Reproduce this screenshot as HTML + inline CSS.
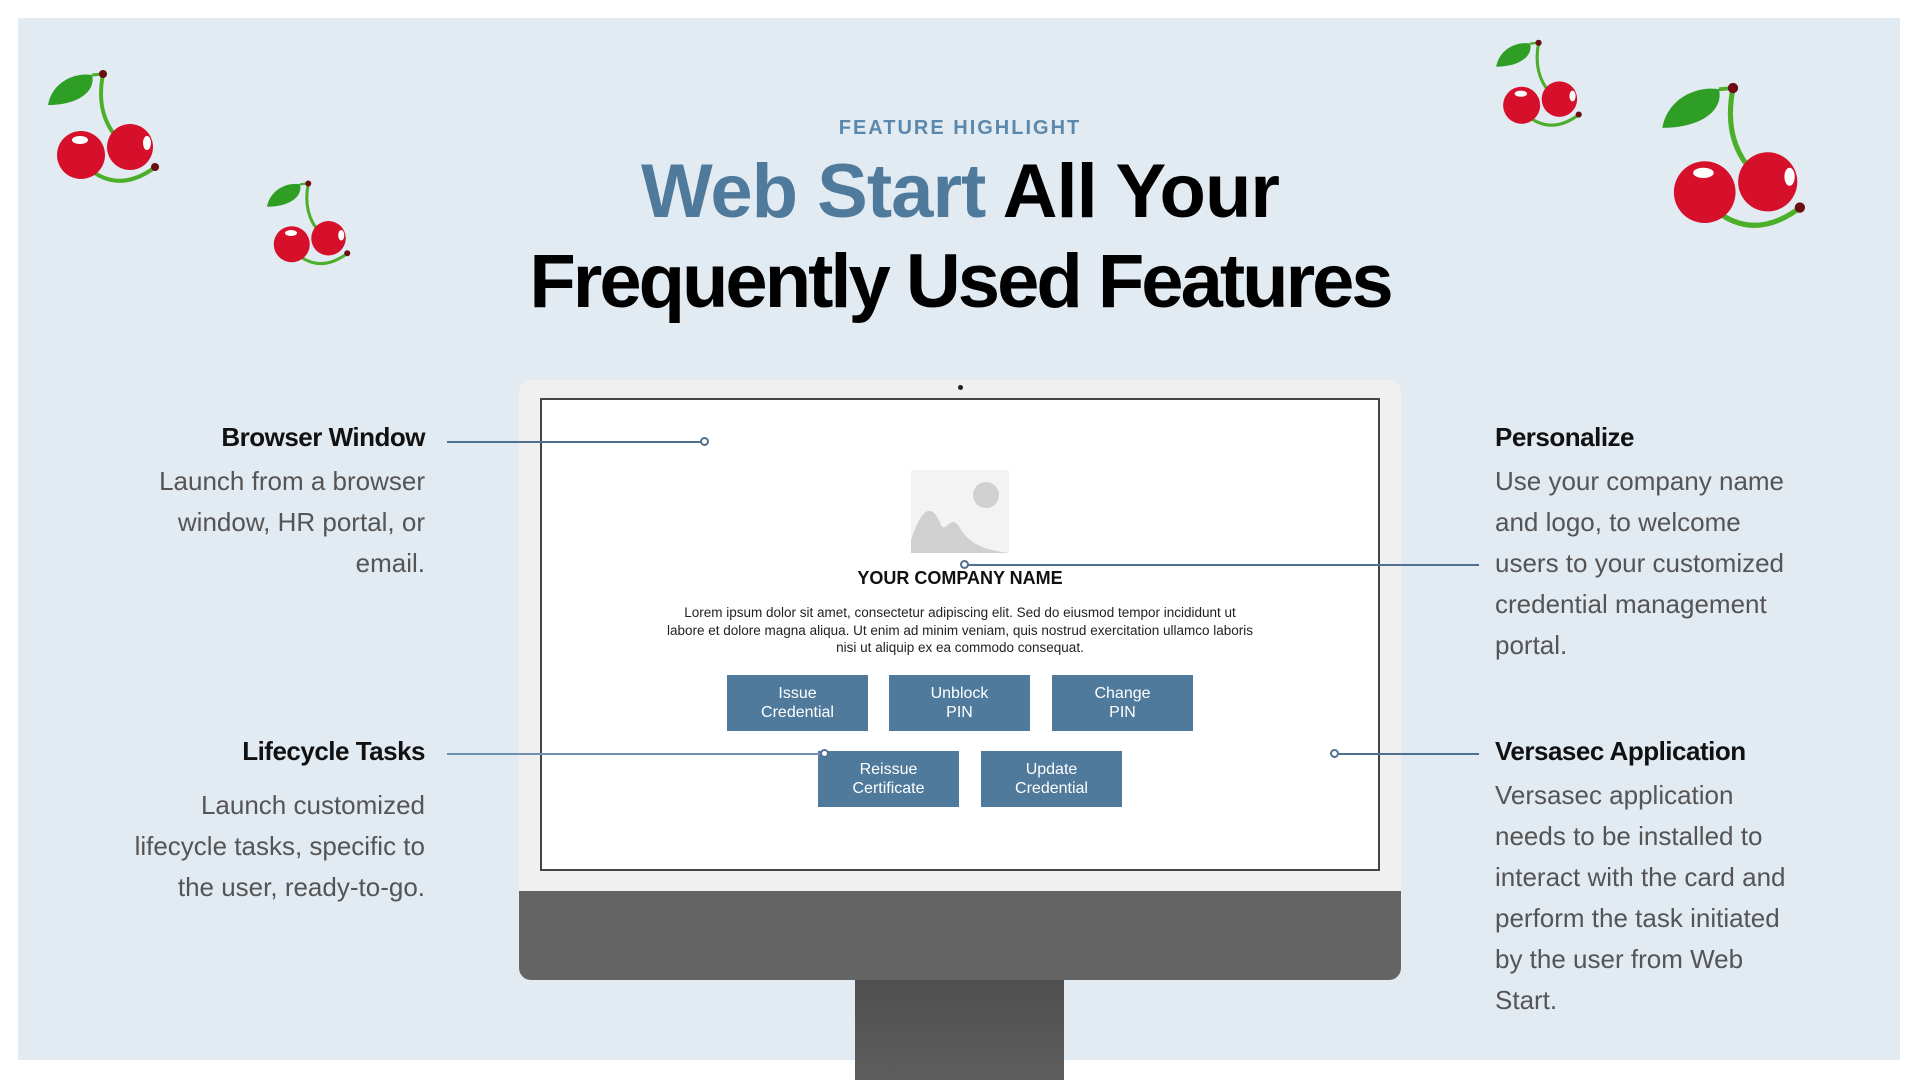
<!DOCTYPE html>
<html><head><meta charset="utf-8"><style>
*{margin:0;padding:0;box-sizing:border-box}
body{width:1920px;height:1080px;background:#fff;position:relative;overflow:hidden;font-family:"Liberation Sans",sans-serif}
.panel{position:absolute;left:18px;top:18px;width:1882px;height:1042px;background:#e2eaf2}
.abs{position:absolute}
.t{position:absolute;white-space:nowrap}
.h{font-weight:bold;font-size:26px;color:#111;letter-spacing:-0.5px}
.b{font-size:26px;color:#555;line-height:41px}
.btn{position:absolute;background:#4f7a9c;color:#fff;font-size:16px;text-align:center;line-height:19px;padding-top:9px;height:56px;width:141px}
.line{position:absolute;height:2px;background:#50708f}
.dot{position:absolute;width:9px;height:9px;border:2px solid #50708f;border-radius:50%;background:#fff}
</style></head><body>
<div class="panel"></div>
<svg width="0" height="0" style="position:absolute"><defs>
<symbol id="ch" viewBox="0 0 140 140">
<path d="M63 14 C58 40 62 62 79 80" stroke="#4caf2a" stroke-width="4" fill="none"/>
<path d="M48 108 Q80 135 118 105" stroke="#4caf2a" stroke-width="4" fill="none"/>
<path d="M8 45 C12 22 35 12 52 15 C56 30 40 45 8 45Z" fill="#2e9e24"/>
<path d="M52 15 L63 14" stroke="#4caf2a" stroke-width="3"/>
<circle cx="90" cy="87" r="23" fill="#d6102a"/>
<circle cx="41" cy="95" r="24" fill="#d6102a"/>
<ellipse cx="107" cy="83" rx="4" ry="7" fill="#fff"/>
<ellipse cx="40" cy="80" rx="8" ry="4" fill="#fff"/>
<circle cx="63" cy="14" r="4" fill="#6b0d13"/>
<circle cx="115" cy="107" r="4" fill="#6b0d13"/>
</symbol></defs></svg>
<svg class="abs" style="left:40px;top:60px" width="140" height="140"><use href="#ch"/></svg>
<svg class="abs" style="left:261px;top:173px" width="105" height="105"><use href="#ch"/></svg>
<svg class="abs" style="left:1490px;top:32px" width="108" height="108"><use href="#ch"/></svg>
<svg class="abs" style="left:1652px;top:70px" width="180" height="180"><use href="#ch"/></svg>

<div class="t" style="left:0;width:1920px;text-align:center;top:117px;font-size:20px;font-weight:bold;color:#5b88ad;letter-spacing:2px">FEATURE HIGHLIGHT</div>
<div class="t" style="left:0;width:1920px;text-align:center;top:148px;font-size:76px;font-weight:bold;letter-spacing:-1px;line-height:88px"><span style="color:#4f7a9c">Web Start</span> <span style="color:#000">All Your</span></div>
<div class="t" style="left:0;width:1920px;text-align:center;top:238px;font-size:76px;font-weight:bold;letter-spacing:-3px;line-height:88px;color:#000">Frequently Used Features</div>

<!-- monitor -->
<div class="abs" style="left:855px;top:975px;width:209px;height:105px;background:linear-gradient(#4e4e4e,#5e5e5e)"></div>
<div class="abs" style="left:519px;top:380px;width:882px;height:600px;background:#f0f0f0;border-radius:12px;overflow:hidden">
 <div class="abs" style="left:0;top:511px;width:882px;height:89px;background:#646464"></div>
</div>
<div class="abs" style="left:958px;top:385px;width:5px;height:5px;border-radius:50%;background:#222"></div>
<div class="abs" style="left:540px;top:398px;width:840px;height:473px;background:#fff;border:2px solid #444"></div>
<svg class="abs" style="left:911px;top:470px" width="98" height="83" viewBox="0 0 98 83"><rect width="98" height="83" fill="#f3f3f3"/><circle cx="75" cy="25" r="13" fill="#d0d0d0"/><path d="M0 83 L0 70 C10 40 20 30 30 55 C35 65 40 40 50 60 C60 75 75 80 98 83Z" fill="#d0d0d0"/></svg>
<div class="t" style="left:0;width:1920px;text-align:center;top:568px;font-size:18px;font-weight:bold;color:#111">YOUR COMPANY NAME</div>
<div class="t" style="left:0;width:1920px;text-align:center;top:604px;font-size:13.5px;line-height:17.5px;color:#222">Lorem ipsum dolor sit amet, consectetur adipiscing elit. Sed do eiusmod tempor incididunt ut<br>labore et dolore magna aliqua. Ut enim ad minim veniam, quis nostrud exercitation ullamco laboris<br>nisi ut aliquip ex ea commodo consequat.</div>
<div class="btn" style="left:727px;top:675px">Issue<br>Credential</div>
<div class="btn" style="left:889px;top:675px">Unblock<br>PIN</div>
<div class="btn" style="left:1052px;top:675px">Change<br>PIN</div>
<div class="btn" style="left:818px;top:751px">Reissue<br>Certificate</div>
<div class="btn" style="left:981px;top:751px">Update<br>Credential</div>

<!-- connectors -->
<div class="line" style="left:447px;top:441px;width:254px"></div><div class="dot" style="left:700px;top:437px"></div>
<div class="line" style="left:968px;top:564px;width:511px"></div><div class="dot" style="left:960px;top:560px"></div>
<div class="line" style="left:447px;top:753px;width:375px;background:#6f8fae"></div><div class="dot" style="left:820px;top:749px"></div>
<div class="line" style="left:1339px;top:753px;width:140px"></div><div class="dot" style="left:1330px;top:749px"></div>

<!-- left text -->
<div class="t h" style="right:1495px;top:422px;text-align:right">Browser Window</div>
<div class="t b" style="right:1495px;top:461px;text-align:right">Launch from a browser<br>window, HR portal, or<br>email.</div>
<div class="t h" style="right:1495px;top:736px;text-align:right">Lifecycle Tasks</div>
<div class="t b" style="right:1495px;top:785px;text-align:right">Launch customized<br>lifecycle tasks, specific to<br>the user, ready-to-go.</div>
<!-- right text -->
<div class="t h" style="left:1495px;top:422px">Personalize</div>
<div class="t b" style="left:1495px;top:461px">Use your company name<br>and logo, to welcome<br>users to your customized<br>credential management<br>portal.</div>
<div class="t h" style="left:1495px;top:736px">Versasec Application</div>
<div class="t b" style="left:1495px;top:775px">Versasec application<br>needs to be installed to<br>interact with the card and<br>perform the task initiated<br>by the user from Web<br>Start.</div>
</body></html>
